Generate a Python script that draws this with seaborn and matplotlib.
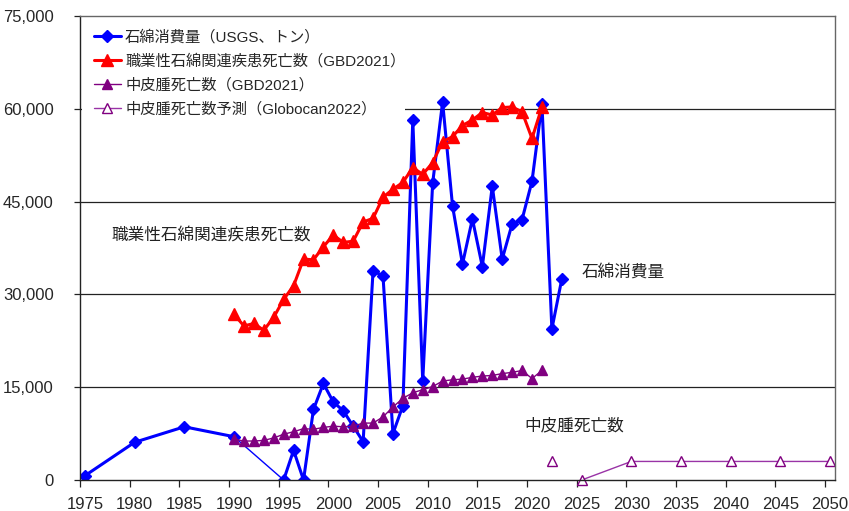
import matplotlib
matplotlib.use("Agg")
import matplotlib.pyplot as plt
import seaborn as sns
import numpy as np
import pandas as pd

# 石綿消費量 (USGS, t)
cons_years = [1975, 1980, 1985, 1990] + list(range(1995, 2024))
cons_vals = [700, 6100, 8600, 7000,
             0, 4800, 0, 11400, 15600, 12600, 11200, 8700, 6200, 33800,
             33000, 7500, 12000, 58200, 16000, 48000, 61100, 44300, 34900,
             42200, 34500, 47500, 35700, 41400, 42100, 48300, 60800, 24400,
             32500]

# 職業性石綿関連疾患死亡数 (GBD2021)
gbd_years = list(range(1990, 2022))
occ_deaths = [26800, 24900, 25300, 24200, 26300, 29200, 31400, 35700, 35600,
              37700, 39600, 38400, 38600, 41700, 42300, 45700, 47000, 48100,
              50500, 49400, 51300, 54700, 55500, 57300, 58200, 59400, 59000,
              60200, 60300, 59500, 55200, 60300]

# 中皮腫死亡数 (GBD2021)
meso_deaths = [6600, 6300, 6300, 6400, 6800, 7400, 7800, 8300, 8200, 8500,
               8700, 8600, 8700, 9200, 9200, 10200, 11800, 13200, 14100,
               14600, 15100, 16000, 16200, 16300, 16600, 16800, 16900, 17200,
               17400, 17700, 16400, 17700]

# 中皮腫死亡数予測 (Globocan2022)
proj_years = [2022, 2025, 2030, 2035, 2040, 2045, 2050]
proj_vals = [3000, 0, 3000, 3000, 3000, 3000, 3000]

labels = ['石綿消費量（USGS、トン）', '職業性石綿関連疾患死亡数（GBD2021）',
          '中皮腫死亡数（GBD2021）', '中皮腫死亡数予測（Globocan2022）']

sns.set_style("ticks")
plt.rcParams['font.family'] = ['Liberation Sans', 'Noto Sans CJK JP', 'DejaVu Sans']

BLUE = '#0000ff'
RED = '#ff0000'
PURPLE = '#800080'
PROJ = '#9933a6'

# Excel puts points in the middle of each year slot
cons = pd.DataFrame({'x': np.array(cons_years) + 0.5, 'y': cons_vals})
gbd = pd.DataFrame({'x': np.array(gbd_years) + 0.5, 'occ': occ_deaths, 'meso': meso_deaths})
proj = pd.DataFrame({'year': proj_years, 'x': np.array(proj_years) + 0.5, 'y': proj_vals})

fig = plt.figure(figsize=(8.49, 5.11), dpi=100)
ax = fig.add_axes([80 / 849, 31 / 511, 755 / 849, 464 / 511])

# grid lines
for v in [15000, 30000, 45000, 60000]:
    ax.axhline(v, color='#222222', lw=0.9, zorder=0.5)

# asbestos consumption: thick where yearly, thin across the 1990-1995 gap
early = cons[cons.x <= 1990.5]
late = cons[cons.x >= 1995.5]
gap = cons[(cons.x >= 1990.5) & (cons.x <= 1995.5)]
dkw = dict(color=BLUE, marker='D', markersize=6, markeredgecolor=BLUE, markeredgewidth=1)
sns.lineplot(data=early, x='x', y='y', ax=ax, lw=2.2, label=labels[0], **dkw)
sns.lineplot(data=gap, x='x', y='y', ax=ax, lw=1.0, color=BLUE)
sns.lineplot(data=late, x='x', y='y', ax=ax, lw=2.2, **dkw)

sns.lineplot(data=gbd, x='x', y='occ', ax=ax, color=RED, lw=2.2, marker='^',
             markersize=8, markeredgecolor=RED, markeredgewidth=1, label=labels[1])
sns.lineplot(data=gbd, x='x', y='meso', ax=ax, color=PURPLE, lw=1.0, marker='^',
             markersize=6.5, markeredgecolor=PURPLE, markeredgewidth=1, label=labels[2])

pline = proj[proj.year >= 2025]
palone = proj[proj.year < 2025]
sns.lineplot(data=pline, x='x', y='y', ax=ax, color=PROJ, lw=1.0, marker='^',
             markersize=7, markerfacecolor='white', markeredgecolor=PURPLE,
             markeredgewidth=1, label=labels[3], clip_on=False)
ax.plot(palone.x, palone.y, ls='none', marker='^', ms=7, mfc='white',
        mec=PURPLE, mew=1)

ax.set_xlim(1975, 2051)
ax.set_ylim(0, 75000)
ax.set_xlabel('')
ax.set_ylabel('')

xt = np.arange(1975, 2051, 5)
ax.set_xticks(xt)
ax.set_xticklabels([])
ax.set_xticks(xt + 0.5, minor=True)
ax.set_xticklabels([str(t) for t in xt], minor=True, fontsize=12)
ax.tick_params(axis='x', which='major', length=5, width=0.9, color='#222222', direction='out')
ax.tick_params(axis='x', which='minor', length=0, pad=12)

yt = np.arange(0, 75001, 15000)
ax.set_yticks(yt)
ax.set_yticklabels([f'{v:,}' for v in yt], fontsize=12)
ax.tick_params(axis='y', length=4, width=0.9, color='#222222', pad=15)

for s in ['left', 'bottom']:
    ax.spines[s].set_color('#222222')
    ax.spines[s].set_linewidth(1.0)
for s in ['top', 'right']:
    ax.spines[s].set_visible(True)
    ax.spines[s].set_color('#666666')
    ax.spines[s].set_linewidth(1.0)

# inline labels
ax.text(1978.2, 39600, '職業性石綿関連疾患死亡数', fontsize=12, va='center', color='#222222')
ax.text(2025.5, 33600, '石綿消費量', fontsize=12, va='center', color='#222222')
ax.text(2019.7, 8770, '中皮腫死亡数', fontsize=12, va='center', color='#222222')

leg = ax.legend(loc='upper left', bbox_to_anchor=(0.003, 0.5, 0.427, 0.4957),
                mode='expand', fontsize=11, frameon=True, fancybox=False,
                borderaxespad=0, borderpad=0.75, labelspacing=0.62,
                handlelength=1.8, handletextpad=0.25)
leg.get_frame().set_facecolor('white')
leg.get_frame().set_edgecolor('none')
leg.get_frame().set_alpha(1)
leg.set_zorder(5)

fig.savefig('out.png', dpi=100)
